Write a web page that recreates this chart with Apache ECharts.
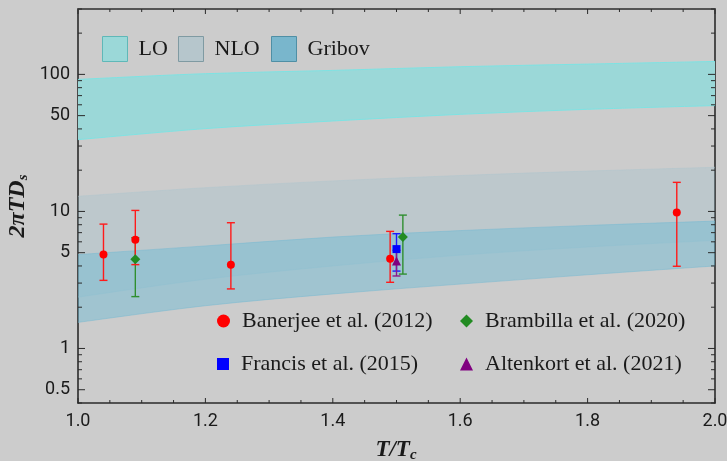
<!DOCTYPE html>
<html>
<head>
<meta charset="utf-8">
<script src="https://cdn.jsdelivr.net/npm/echarts@6/dist/echarts.min.js"></script>
<style>
  html, body { margin: 0; padding: 0; background: #cccccc; }
  #chart { width: 727px; height: 461px; }
</style>
</head>
<body>
<div id="chart"></div>
<script>
// band curves, T/Tc grid
const bandT = [1.0, 1.2, 1.4, 1.6, 1.8, 2.0]
const loLow = [33.4, 40.2, 45.7, 51.1, 55.6, 59.2]
const loHigh = [91.9, 101.2, 106.9, 113.8, 118.9, 124.3]
const nloLow = [2.37, 3.2, 4.0, 4.8, 5.5, 6.15]
const nloHigh = [12.9, 14.9, 16.7, 18.3, 19.7, 21.0]
const gribovLow = [1.55, 2.05, 2.5, 2.95, 3.45, 4.0]
const gribovHigh = [4.84, 5.6, 6.5, 7.25, 7.9, 8.5]

// lattice points: T, value, lower, upper
const banerjeeT = [1.04, 1.09, 1.24, 1.49, 1.94]
const banerjeeY = [4.84, 6.22, 4.09, 4.52, 9.83]
const banerjeeLo = [3.14, 4.09, 2.72, 3.04, 3.98]
const banerjeeHi = [8.08, 10.17, 8.27, 7.15, 16.3]
const brambillaT = [1.09, 1.51]
const brambillaY = [4.47, 6.5]
const brambillaLo = [2.39, 3.49]
const brambillaHi = [6.43, 9.4]
const francisT = [1.5]
const francisY = [5.31]
const francisLo = [3.67]
const francisHi = [6.88]
const altenkortT = [1.5]
const altenkortY = [4.35]
const altenkortLo = [3.38]
const altenkortHi = [5.2]

// ticks
const yMajor = [0.5, 1, 5, 10, 50, 100]
const yMinor = [0.4, 0.6, 0.7, 0.8, 0.9, 2, 3, 4, 6, 7, 8, 9, 20, 30, 40, 60, 70, 80, 90, 200, 300]
const xMajor = [1.0, 1.2, 1.4, 1.6, 1.8, 2.0]
const xMinor = [1.05, 1.1, 1.15, 1.25, 1.3, 1.35, 1.45, 1.5, 1.55, 1.65, 1.7, 1.75, 1.85, 1.9, 1.95]

const lg = v => Math.log10(v)
const serif = '"Liberation Serif", "DejaVu Serif", serif'
const yMin = lg(0.4)
const yMax = lg(300)

// catmull-rom through screen points -> svg path pieces
function curve (pts, start) {
  let d = start ? 'M' + pts[0][0] + ' ' + pts[0][1] : 'L' + pts[0][0] + ' ' + pts[0][1]
  for (let i = 0; i < pts.length - 1; i++) {
    const p0 = pts[i - 1] || pts[i]
    const p1 = pts[i]
    const p2 = pts[i + 1]
    const p3 = pts[i + 2] || p2
    const c1 = [p1[0] + (p2[0] - p0[0]) / 6, p1[1] + (p2[1] - p0[1]) / 6]
    const c2 = [p2[0] - (p3[0] - p1[0]) / 6, p2[1] - (p3[1] - p1[1]) / 6]
    d += ' C' + c1.join(' ') + ' ' + c2.join(' ') + ' ' + p2.join(' ')
  }
  return d
}

function bandSeries (name, low, high, fill, edge, z) {
  return {
    name: name, type: 'custom', z: z, silent: true, clip: true,
    data: [0],
    renderItem: function (params, api) {
      const top = bandT.map((t, i) => api.coord([t, lg(high[i])]))
      const bot = bandT.map((t, i) => api.coord([t, lg(low[i])])).reverse()
      const d = curve(top, true) + ' ' + curve(bot, false) + ' Z'
      return {
        type: 'group',
        children: [
          { type: 'path', shape: { pathData: d }, style: { fill: fill, stroke: null } },
          { type: 'path', shape: { pathData: curve(top, true) }, style: { fill: null, stroke: edge, lineWidth: 1 } },
          { type: 'path', shape: { pathData: curve(bot, true) }, style: { fill: null, stroke: edge, lineWidth: 1 } }
        ]
      }
    }
  }
}

function errSeries (name, ts, lo, hi, color) {
  return {
    name: name + '_err', type: 'custom', z: 5,
    data: ts.map((t, i) => [t, lg(lo[i]), lg(hi[i])]),
    renderItem: function (params, api) {
      const a = api.coord([api.value(0), api.value(1)])
      const b = api.coord([api.value(0), api.value(2)])
      const st = { stroke: color, lineWidth: 1.4 }
      return {
        type: 'group',
        children: [
          { type: 'line', shape: { x1: a[0], y1: a[1], x2: b[0], y2: b[1] }, style: st },
          { type: 'line', shape: { x1: a[0] - 4, y1: a[1], x2: a[0] + 4, y2: a[1] }, style: st },
          { type: 'line', shape: { x1: b[0] - 4, y1: b[1], x2: b[0] + 4, y2: b[1] }, style: st }
        ]
      }
    }
  }
}

function pointSeries (name, ts, ys, color, symbol, size) {
  return {
    name: name, type: 'scatter', z: 6, symbol: symbol, symbolSize: size,
    itemStyle: { color: color, opacity: 1 },
    data: ts.map((t, i) => [t, lg(ys[i])])
  }
}

const pts = [
  { name: 'Banerjee et al. (2012)', color: '#ff0000', symbol: 'circle', size: 8, icon: 13 },
  { name: 'Brambilla et al. (2020)', color: '#228b22', symbol: 'diamond', size: 10, icon: 13 },
  { name: 'Francis et al. (2015)', color: '#0000ff', symbol: 'rect', size: 8, icon: 12 },
  { name: 'Altenkort et al. (2021)', color: '#800080', symbol: 'triangle', size: 9, icon: 13 }
]

const series = [
  bandSeries('LO', loLow, loHigh, '#9bd8d8', 'rgba(120,228,228,0.9)', 1),
  bandSeries('NLO', nloLow, nloHigh, 'rgba(157,191,204,0.3)', 'rgba(175,198,206,0.5)', 2),
  bandSeries('Gribov', gribovLow, gribovHigh, 'rgba(106,186,213,0.45)', 'rgba(120,185,210,0.5)', 3),
  errSeries('Brambilla', brambillaT, brambillaLo, brambillaHi, '#2f8f2f'),
  errSeries('Banerjee', banerjeeT, banerjeeLo, banerjeeHi, '#ff1a1a'),
  errSeries('Francis', francisT, francisLo, francisHi, '#1a1aff'),
  errSeries('Altenkort', altenkortT, altenkortLo, altenkortHi, '#8a1a8a'),
  pointSeries(pts[1].name, brambillaT, brambillaY, pts[1].color, pts[1].symbol, pts[1].size),
  pointSeries(pts[0].name, banerjeeT, banerjeeY, pts[0].color, pts[0].symbol, pts[0].size),
  pointSeries(pts[2].name, francisT, francisY, pts[2].color, pts[2].symbol, pts[2].size),
  pointSeries(pts[3].name, altenkortT, altenkortY, pts[3].color, pts[3].symbol, pts[3].size)
]

const bandLegend = [
  { name: 'LO', left: 102, color: '#9bd8d8', border: '#5fb8b8' },
  { name: 'NLO', left: 178, color: '#b6c6cc', border: '#7f9aa2' },
  { name: 'Gribov', left: 271, color: '#79b6cc', border: '#4f8fa5' }
]
const legends = bandLegend.map(b => ({
  left: b.left, top: 36, padding: 0, selectedMode: false,
  itemWidth: 25, itemHeight: 25,
  textStyle: { fontFamily: serif, fontSize: 22, color: '#1a1a1a', padding: [0, 0, 0, 6] },
  data: [{ name: b.name, icon: 'rect', itemStyle: { color: b.color, borderColor: b.border, borderWidth: 1 } }]
}))
const ptLegendPos = [[217, 310], [460, 310], [217, 353], [460, 353]]
pts.forEach((p, i) => {
  legends.push({
    left: ptLegendPos[i][0], top: ptLegendPos[i][1], padding: 0, selectedMode: false,
    itemWidth: p.icon, itemHeight: p.icon,
    textStyle: { fontFamily: serif, fontSize: 22, color: '#1a1a1a', padding: [0, 0, 0, 7] },
    data: [{ name: p.name, icon: p.symbol, itemStyle: { color: p.color } }]
  })
})

function yAx (pos, labels) {
  return {
    type: 'value', position: pos, min: yMin, max: yMax,
    splitLine: { show: false },
    axisLine: { show: true, onZero: false, lineStyle: { color: '#2a2a2a', width: 1.6 } },
    axisTick: { show: false },
    axisLabel: {
      show: labels, margin: 8, fontFamily: 'Roboto', fontSize: 18, color: '#1a1a1a',
      customValues: yMajor.map(lg),
      formatter: v => String(Math.round(Math.pow(10, v) * 10) / 10)
    }
  }
}

function xAx (pos, labels) {
  return {
    type: 'value', position: pos, min: 1, max: 2, interval: 0.2,
    splitLine: { show: false },
    axisLine: { show: true, onZero: false, lineStyle: { color: pos === 'top' ? '#555' : '#2a2a2a', width: pos === 'top' ? 2 : 1.6 } },
    axisTick: { show: false },
    axisLabel: {
      show: labels, margin: 9, fontFamily: 'Roboto', fontSize: 18, color: '#1a1a1a',
      formatter: v => v.toFixed(1)
    }
  }
}

const chart = echarts.init(document.getElementById('chart'), null, { renderer: 'canvas' })
chart.setOption({
  backgroundColor: '#cccccc',
  animation: false,
  grid: { left: 78, right: 12, top: 9, bottom: 58, outerBoundsMode: 'none' },
  xAxis: [xAx('bottom', true), xAx('top', false)],
  yAxis: [yAx('left', true), yAx('right', false)],
  legend: legends,
  series: series
})

// frame ticks on all four sides, pointing inward, placed with the grid's own scales
const tickStyle = { stroke: '#2a2a2a', lineWidth: 1 }
const px = p => chart.convertToPixel({ gridIndex: 0 }, p)
const ticks = []
function yTick (v, len) {
  const l = px([1, lg(v)])
  const r = px([2, lg(v)])
  ticks.push({ type: 'line', z: 100, shape: { x1: l[0], y1: l[1], x2: l[0] + len, y2: l[1] }, style: tickStyle })
  ticks.push({ type: 'line', z: 100, shape: { x1: r[0], y1: r[1], x2: r[0] - len, y2: r[1] }, style: tickStyle })
}
function xTick (v, len) {
  const b = px([v, yMin])
  const t = px([v, yMax])
  ticks.push({ type: 'line', z: 100, shape: { x1: b[0], y1: b[1], x2: b[0], y2: b[1] - len }, style: tickStyle })
  ticks.push({ type: 'line', z: 100, shape: { x1: t[0], y1: t[1], x2: t[0], y2: t[1] + len }, style: tickStyle })
}
yMajor.forEach(v => yTick(v, 7))
yMinor.forEach(v => yTick(v, 4))
xMajor.forEach(v => xTick(v, 5))
xMinor.forEach(v => xTick(v, 3))

chart.setOption({
  graphic: [
    {
      type: 'text', x: 18, y: 206, rotation: Math.PI / 2,
      style: {
        text: '{a|2πTD}{s|s}', align: 'center', verticalAlign: 'middle',
        rich: {
          a: { fontFamily: serif, fontSize: 24, fontWeight: 'bold', fontStyle: 'italic', fill: '#1a1a1a' },
          s: { fontFamily: serif, fontSize: 15, fontWeight: 'bold', fontStyle: 'italic', fill: '#1a1a1a', padding: [11, 0, 0, 0] }
        }
      }
    },
    {
      type: 'text', x: 396, y: 450,
      style: {
        text: '{a|T/T}{s|c}', align: 'center', verticalAlign: 'middle',
        rich: {
          a: { fontFamily: serif, fontSize: 23, fontWeight: 'bold', fontStyle: 'italic', fill: '#1a1a1a' },
          s: { fontFamily: serif, fontSize: 15, fontWeight: 'bold', fontStyle: 'italic', fill: '#1a1a1a', padding: [11, 0, 0, 0] }
        }
      }
    }
  ].concat(ticks)
})
</script>
</body>
</html>
